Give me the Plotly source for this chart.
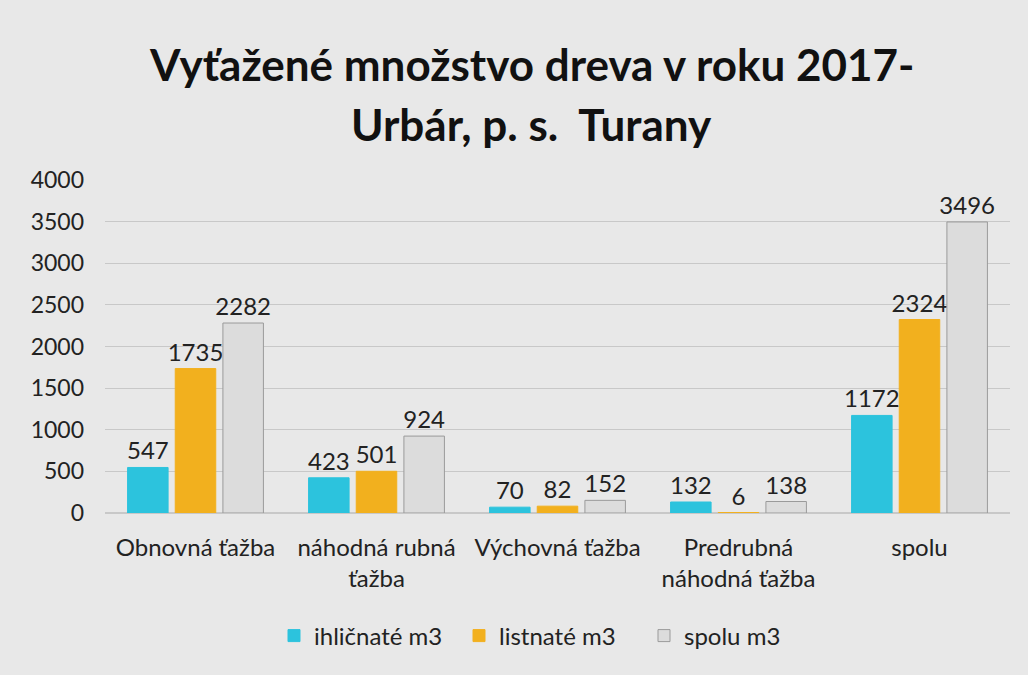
import plotly.graph_objects as go

categories = ["Obnovná ťažba", "náhodná rubná<br>ťažba", "Výchovná ťažba", "Predrubná<br>náhodná ťažba", "spolu"]
ihlicnate = [547, 423, 70, 132, 1172]
listnate = [1735, 501, 82, 6, 2324]
spolu = [2282, 924, 152, 138, 3496]
series_names = ["ihličnaté m3", "listnaté m3", "spolu m3"]
y_ticks = [0, 500, 1000, 1500, 2000, 2500, 3000, 3500, 4000]
title_lines = ["Vyťažené množstvo dreva v roku 2017-", "Urbár, p. s.  Turany"]

fig = go.Figure()
colors = ["#2cc3dd", "#f2b01e", "#dcdcdc"]
lines = ["#2cc3dd", "#f2b01e", "#9a9a9a"]
for name, vals, c, lc in zip(series_names, [ihlicnate, listnate, spolu], colors, lines):
    fig.add_trace(go.Bar(
        x=categories, y=vals, name=name,
        marker=dict(color=c, line=dict(color=lc, width=1)),
        text=[str(v) for v in vals], textposition="outside", constraintext="none",
        textfont=dict(size=24, color="#222"), cliponaxis=False,
    ))

H = 675
top, bot = 180, 162
ph = H - top - bot
for line, ypx in zip(title_lines, [64, 124]):
    fig.add_annotation(text="<b>" + line + "</b>", xref="paper", yref="paper",
                       x=0.471, y=(H - bot - ypx) / ph, xanchor="center", yanchor="middle",
                       showarrow=False, font=dict(size=44, color="#111"))

fig.update_layout(
    width=1028, height=675,
    paper_bgcolor="#e8e8e8", plot_bgcolor="#e8e8e8",
    font=dict(family="Lato, Open Sans, sans-serif", color="#222"),
    barmode="group", bargap=0.21, bargroupgap=0.15,
    margin=dict(l=105, r=18, t=top, b=bot),
    showlegend=True,
    legend=dict(orientation="h", x=(274 - 105) / 905, xanchor="left", y=(H - bot - 636) / ph,
                yanchor="middle", font=dict(size=24), itemwidth=30, traceorder="normal",
                entrywidth=140, entrywidthmode="pixels"),
    xaxis=dict(tickfont=dict(size=24), showline=False, ticks="", ticklabelstandoff=18),
    yaxis=dict(range=[0, 4000], tickvals=y_ticks, tickfont=dict(size=23),
               gridcolor="#c8c8c8", zeroline=True, zerolinecolor="#c8c8c8",
               ticks="", ticklabelstandoff=20),
)
fig.write_html("out.html", config={"displayModeBar": False},
               post_script="document.body.style.margin='0';document.body.style.background='#e8e8e8';")
